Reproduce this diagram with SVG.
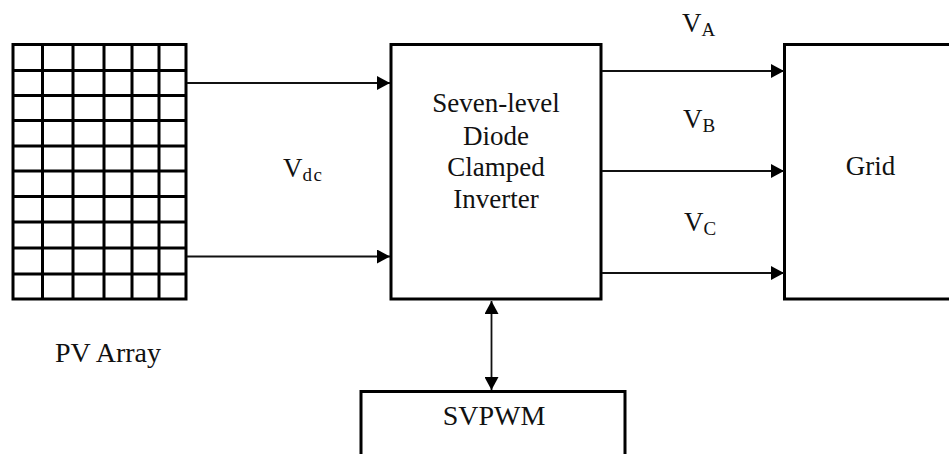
<svg xmlns="http://www.w3.org/2000/svg" width="949" height="454" viewBox="0 0 949 454">
<style>
.box{fill:#fff;stroke:#000;stroke-width:3}
.g{fill:none;stroke:#000;stroke-width:3}
.c{fill:none;stroke:#111;stroke-width:1.8}
text{font-family:"Liberation Serif","Times New Roman",serif;font-size:27px;fill:#111;text-anchor:middle}
text.v{text-anchor:start}
text.w{font-size:28px}
.sub{font-size:19px}
</style>
<defs>
<marker id="end" markerUnits="userSpaceOnUse" markerWidth="14" markerHeight="14" refX="13" refY="7" orient="auto-start-reverse"><path d="M0 0L13 7L0 14Z" fill="#000"/></marker>
</defs>
<rect width="949" height="454" fill="#fff"/>
<g id="pv-array">
<path class="g" d="M13 44.500H186V299H13ZM42.500 44.500V299M73 44.500V299M104 44.500V299M132 44.500V299M159 44.500V299M13 70.500H186M13 95.500H186M13 120.500H186M13 146H186M13 171H186M13 196.500H186M13 222H186M13 248H186M13 274H186"/>
<text class="w" x="108" y="362">PV Array</text>
</g>
<g id="inverter">
<rect class="box" x="391" y="44.500" width="210" height="254.500"/>
<text x="496" y="112">Seven-level</text>
<text x="496" y="144.500">Diode</text>
<text x="496" y="175.500">Clamped</text>
<text x="496" y="208">Inverter</text>
</g>
<g id="grid">
<rect class="box" x="784.500" y="44.500" width="170" height="254.500"/>
<text x="870.500" y="175">Grid</text>
</g>
<g id="svpwm">
<path class="box" d="M361 470V391.500H625V470"/>
<text class="w" x="494" y="425">SVPWM</text>
</g>
<g id="connectors">
<path class="c" marker-end="url(#end)" d="M187 83H390"/>
<path class="c" marker-end="url(#end)" d="M187 256.500H390"/>
<path class="c" marker-end="url(#end)" d="M602 71H784"/>
<path class="c" marker-end="url(#end)" d="M602 171H784"/>
<path class="c" marker-end="url(#end)" d="M602 273H784"/>
<path class="c" marker-start="url(#end)" marker-end="url(#end)" d="M491.500 301V390"/>
</g>
<g id="labels">
<text class="v" x="283" y="177">V<tspan class="sub" dy="4" style="letter-spacing:1.500px">dc</tspan></text>
<text class="v" x="682" y="32">V<tspan class="sub" dy="3.500">A</tspan></text>
<text class="v" x="683" y="128">V<tspan class="sub" dy="3.500">B</tspan></text>
<text class="v" x="684" y="231">V<tspan class="sub" dy="4">C</tspan></text>
</g>
</svg>
